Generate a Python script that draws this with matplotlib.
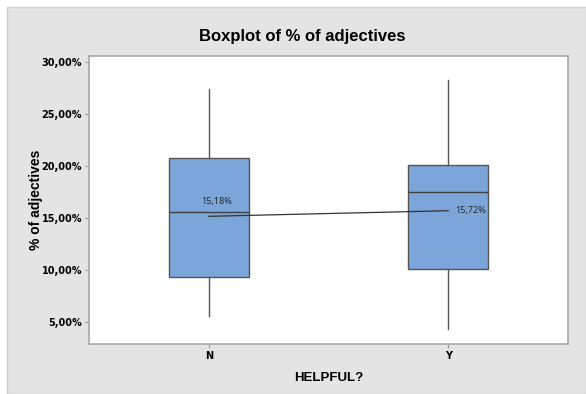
import matplotlib
matplotlib.use("Agg")
import matplotlib.pyplot as plt
from matplotlib.patches import Rectangle
from matplotlib.ticker import FuncFormatter

# Summary statistics of % of adjectives by HELPFUL? group
groups = ["N", "Y"]
whisker_low = [5.64, 4.37]
q1 = [9.37, 10.07]
median = [15.55, 17.50]
q3 = [20.81, 20.13]
whisker_high = [27.44, 28.27]
means = [15.18, 15.72]
mean_labels = ["15,18%", "15,72%"]
y_ticks = [5, 10, 15, 20, 25, 30]

plt.rcParams["font.family"] = ["Liberation Sans", "DejaVu Sans"]

W, H = 586, 394
fig = plt.figure(figsize=(W / 100, H / 100), dpi=100, facecolor="white")

# Grey panel behind the chart
fig.add_artist(Rectangle((7 / W, 0), 1 - 7 / W, 1 - 7 / H, transform=fig.transFigure,
                         facecolor="#e4e4e4", edgecolor="#cfcfcf", lw=1, zorder=-5))

ax = fig.add_axes([89 / W, (H - 344) / H, (568 - 89) / W, (344 - 56) / H])
ax.set_facecolor("white")

stats = []
for i, g in enumerate(groups):
    stats.append(dict(label=g, whislo=whisker_low[i], q1=q1[i], med=median[i],
                      q3=q3[i], whishi=whisker_high[i], fliers=[]))

ax.bxp(stats, positions=[1, 2], widths=0.335, patch_artist=True, showcaps=False,
       boxprops=dict(facecolor="#7ca5d9", edgecolor="#555555", linewidth=1.0),
       medianprops=dict(color="#404040", linewidth=1.0),
       whiskerprops=dict(color="#555555", linewidth=1.0))

# Line connecting the group means
ax.plot([1, 2], means, color="#333333", lw=0.9, zorder=5)
ax.text(1 - 0.03, means[0] + 1.4, mean_labels[0], fontsize=6.6, color="#222222",
        ha="left", va="center", family=["Open Sans", "DejaVu Sans"])
ax.text(2 + 0.03, means[1] + 0.05, mean_labels[1], fontsize=6.6, color="#222222",
        ha="left", va="center", family=["Open Sans", "DejaVu Sans"])

ax.set_xlim(0.5, 2.5)
ax.set_ylim(2.9, 30.6)
ax.set_yticks(y_ticks)
ax.yaxis.set_major_formatter(FuncFormatter(lambda v, p: f"{v:.2f}%".replace(".", ",")))
ax.set_xticks([1, 2])
ax.set_xticklabels(groups)

for lab in ax.get_xticklabels() + ax.get_yticklabels():
    lab.set_fontweight("bold")
    lab.set_fontsize(7)
    lab.set_family(["DejaVu Sans"])
ax.tick_params(axis="both", length=3, width=0.8, color="#999999", pad=2)

for s in ax.spines.values():
    s.set_color("#a8a8a8")
    s.set_linewidth(1.2)

ax.set_xlabel("HELPFUL?", fontsize=9.5, fontweight="bold", labelpad=8)
ax.set_ylabel("% of adjectives", fontsize=10, fontweight="bold")
ax.yaxis.set_label_coords((43 - 89) / 479, 0.5)
fig.text(302 / W, 1 - 36 / H, "Boxplot of % of adjectives", fontsize=12,
         fontweight="bold", ha="center", va="center")

fig.savefig("out.png", dpi=100, facecolor="white")
